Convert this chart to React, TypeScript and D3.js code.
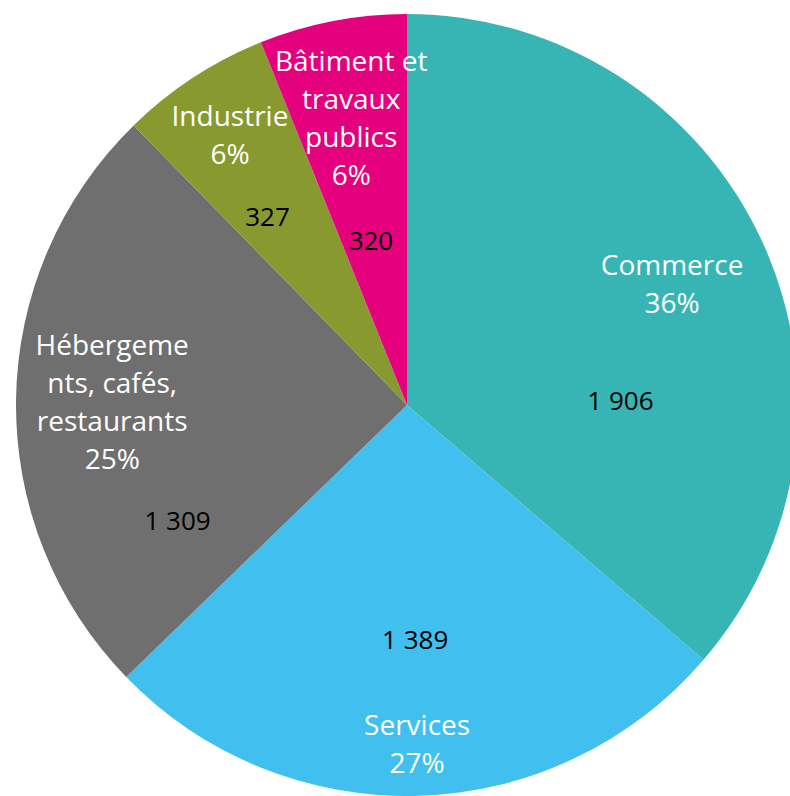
import React, { useEffect, useRef } from 'react';
import * as d3 from 'd3';

// Data
const categories = ['Commerce', 'Services', 'Hébergements, cafés, restaurants', 'Industrie', 'Bâtiment et travaux publics'];
const labelLines = [
  ['Commerce'],
  ['Services'],
  ['Hébergeme', 'nts, cafés,', 'restaurants'],
  ['Industrie'],
  ['Bâtiment et', 'travaux', 'publics'],
];
const values = [1906, 1389, 1309, 327, 320];
const percents = [36, 27, 25, 6, 6];
const colors = ['#37B5B4', '#41BFEF', '#6F6F6F', '#889A2F', '#E5007E'];

// Label placement (fraction of radius, angle in degrees from 12 o'clock)
const nameRadius = [0.746, 0.864, 0.754, 0.828, 0.75];
const valueAngle = [88.7, 178, 243.3, 323.5, 347.7];
const valueRadius = [0.546, 0.6, 0.657, 0.6, 0.433];

const App = () => {
  const ref = useRef<SVGSVGElement>(null);

  useEffect(() => {
    const width = 790;
    const height = 796;
    const cx = 407;
    const cy = 405;
    const radius = 391;
    const lineH = 38;

    const svg = d3.select(ref.current);
    svg.selectAll('*').remove();

    const g = svg.append('g').attr('transform', `translate(${cx},${cy})`);

    const data = categories.map((c, i) => ({ category: c, value: values[i], i }));

    const pie = d3.pie<any>().sort(null).value(d => d.value);
    const arcs = pie(data);

    const arc = d3.arc<any>().innerRadius(0).outerRadius(radius);

    g.selectAll('path.slice')
      .data(arcs)
      .enter()
      .append('path')
      .attr('class', 'slice')
      .attr('d', arc)
      .attr('fill', d => colors[d.data.i]);

    const fr = d3.formatLocale({ decimal: ',', thousands: ' ', grouping: [3], currency: ['', ' €'] });
    const fmt = fr.format(',d');

    const polar = (angle: number, r: number) => [r * Math.sin(angle), -r * Math.cos(angle)];

    // Category + percentage labels
    arcs.forEach(a => {
      const i = a.data.i;
      const mid = (a.startAngle + a.endAngle) / 2;
      const [x, y] = polar(mid, nameRadius[i] * radius);
      const lines = [...labelLines[i], `${percents[i]}%`];
      const t = g.append('text')
        .attr('text-anchor', 'middle')
        .attr('font-family', '"Open Sans", sans-serif')
        .attr('font-size', 28)
        .attr('fill', '#ffffff');
      lines.forEach((ln, k) => {
        t.append('tspan')
          .attr('x', x)
          .attr('y', y + (k - (lines.length - 1) / 2) * lineH)
          .attr('dominant-baseline', 'central')
          .text(ln);
      });
    });

    // Value labels
    arcs.forEach(a => {
      const i = a.data.i;
      const [x, y] = polar((valueAngle[i] * Math.PI) / 180, valueRadius[i] * radius);
      g.append('text')
        .attr('x', x)
        .attr('y', y)
        .attr('text-anchor', 'middle')
        .attr('dominant-baseline', 'central')
        .attr('font-family', '"Open Sans", sans-serif')
        .attr('font-size', 26)
        .attr('fill', '#000000')
        .text(fmt(a.data.value));
    });

    svg.attr('width', width).attr('height', height);
  }, []);

  return (
    <svg
      ref={ref}
      width={790}
      height={796}
      style={{ position: 'absolute', left: 0, top: 0, background: '#ffffff' }}
    />
  );
};

export default App;
